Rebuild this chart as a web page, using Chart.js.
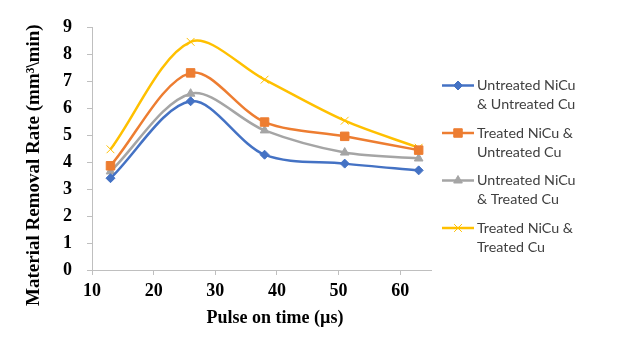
<!DOCTYPE html>
<html>
<head>
<meta charset="utf-8">
<script src="https://cdn.jsdelivr.net/npm/chart.js@4.4.1/dist/chart.umd.min.js"></script>
<style>
  html, body { margin: 0; padding: 0; background: #fff; }
  #mrr { display: block; }
</style>
</head>
<body>
<canvas id="mrr" width="617" height="340"></canvas>
<script>
const pulseOn = [13, 26, 38, 51, 63];
const untreatedNiCuUntreatedCu = [3.40, 6.25, 4.27, 3.94, 3.69];
const treatedNiCuUntreatedCu = [3.86, 7.30, 5.48, 4.95, 4.44];
const untreatedNiCuTreatedCu = [3.65, 6.53, 5.17, 4.35, 4.13];
const treatedNiCuTreatedCu = [4.47, 8.45, 7.05, 5.53, 4.53];

const seriesNames = [
  ['Untreated NiCu', '& Untreated Cu'],
  ['Treated NiCu &', 'Untreated Cu'],
  ['Untreated NiCu', '& Treated Cu'],
  ['Treated NiCu &', 'Treated Cu']
];
const xTicks = [10, 20, 30, 40, 50, 60];

const mrrCanva = document.getElementById('mrr');

function pts(ys) {
  return pulseOn.map((x, i) => ({ x: x, y: ys[i] }));
}

function series(i, ys, color, style, radius) {
  return {
    label: seriesNames[i].join(' '),
    data: pts(ys),
    showLine: true,
    tension: 0.32,
    borderColor: color,
    backgroundColor: color,
    borderWidth: 2.5,
    pointStyle: style,
    pointRadius: radius,
    pointBorderColor: color,
    pointBackgroundColor: color,
    pointBorderWidth: 1
  };
}

// legend drawn at the right, two text lines per entry
const sideLegend = {
  id: 'sideLegend',
  afterDraw(chart) {
    const ctx = chart.ctx;
    ctx.save();
    chart.data.datasets.forEach((ds, i) => {
      const y = 85.5 + i * 47.5;
      ctx.strokeStyle = ds.borderColor;
      ctx.fillStyle = ds.borderColor;
      ctx.lineWidth = 2.5;
      ctx.beginPath();
      ctx.moveTo(442, y);
      ctx.lineTo(474, y);
      ctx.stroke();
      ctx.lineWidth = 1;
      Chart.helpers.drawPoint(ctx, {
        pointStyle: ds.pointStyle,
        radius: ds.pointRadius,
        borderWidth: 1,
        rotation: 0
      }, 458, y);
      ctx.fillStyle = '#404040';
      ctx.font = '14.3px Lato';
      ctx.textAlign = 'left';
      ctx.textBaseline = 'middle';
      seriesNames[i].forEach((t, k) => ctx.fillText(t, 477, y + k * 19));
    });
    ctx.restore();
  }
};

const serif = "'Liberation Serif', 'Times New Roman', serif";

var mrrChart = new Chart(mrrCanva, {
  type: 'scatter',
  data: {
    datasets: [
      series(0, untreatedNiCuUntreatedCu, '#4472C4', 'rectRot', 4.5),
      series(1, treatedNiCuUntreatedCu, '#ED7D31', 'rect', 6),
      series(2, untreatedNiCuTreatedCu, '#A5A5A5', 'triangle', 5),
      series(3, treatedNiCuTreatedCu, '#FFC000', 'crossRot', 5.5)
    ]
  },
  options: {
    responsive: false,
    animation: false,
    layout: { padding: { left: 0, right: 186, top: 27, bottom: 0 } },
    plugins: {
      legend: { display: false },
      tooltip: { enabled: false }
    },
    scales: {
      x: {
        type: 'linear',
        min: 10,
        max: 65,
        afterFit: s => { s.height = 70; },
        afterBuildTicks: s => { s.ticks = xTicks.map(v => ({ value: v })); },
        border: { color: '#BFBFBF', width: 1 },
        grid: { drawOnChartArea: false, color: '#BFBFBF', tickLength: 5 },
        ticks: {
          padding: 6,
          color: '#000',
          font: { family: serif, size: 18, weight: 'bold' }
        },
        title: {
          display: true,
          text: '      Pulse on time (µs)',
          color: '#000',
          padding: { top: 0, bottom: 11 },
          font: { family: serif, size: 18, weight: 'bold' }
        }
      },
      y: {
        min: 0,
        max: 9,
        afterFit: s => { s.width = 92; },
        border: { color: '#BFBFBF', width: 1 },
        grid: { drawOnChartArea: false, color: '#BFBFBF', tickLength: 5 },
        ticks: {
          stepSize: 1,
          padding: 15,
          color: '#000',
          font: { family: serif, size: 18, weight: 'bold' }
        },
        title: {
          display: true,
          text: 'Material Removal Rate (mm³\\min)       ',
          color: '#000',
          padding: { top: 23, bottom: 0 },
          font: { family: serif, size: 19, weight: 'bold' }
        }
      }
    }
  },
  plugins: [sideLegend]
});
</script>
</body>
</html>
